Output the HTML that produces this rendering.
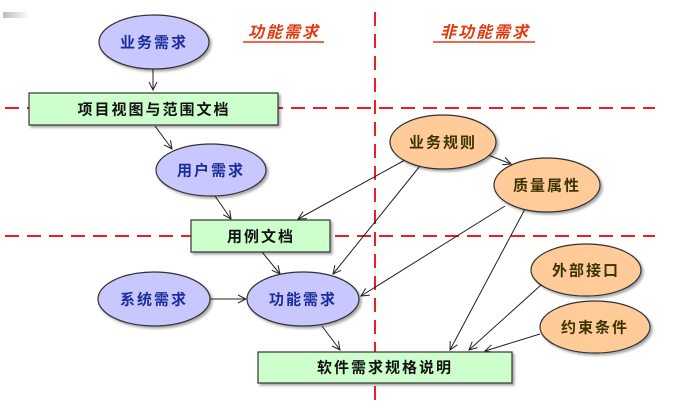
<!DOCTYPE html>
<html><head><meta charset="utf-8"><style>
html,body{margin:0;padding:0;background:#fff;}
svg{display:block;}
text{font-family:"Liberation Sans","Noto Sans CJK SC",sans-serif;font-weight:bold;font-size:15px;text-anchor:middle;dominant-baseline:central;letter-spacing:2px;}
.b{fill:#1c2c9c;}
.o{fill:#3a3200;}
.k{fill:#111;}
.h{fill:#e23a10;font-style:italic;font-size:16px;}
</style></head><body>
<svg width="685" height="418" viewBox="0 0 685 418" xmlns="http://www.w3.org/2000/svg">
<defs>
<marker id="a" markerWidth="10" markerHeight="10" refX="9" refY="5" orient="auto" markerUnits="userSpaceOnUse">
<path d="M1,1 L9,5 L1,9" fill="none" stroke="#222" stroke-width="1"/></marker>
<linearGradient id="g" x1="0" x2="1"><stop offset="0" stop-color="#bbb"/><stop offset="1" stop-color="#fff"/></linearGradient>
<filter id="s" x="-10%" y="-10%" width="130%" height="140%"><feDropShadow dx="2" dy="2" stdDeviation="1.2" flood-color="#000" flood-opacity="0.35"/></filter>
</defs>
<rect x="3" y="12" width="26" height="6" fill="url(#g)"/>
<g stroke="#ee1c24" stroke-width="2" stroke-dasharray="14,8" fill="none">
<line x1="5" y1="108" x2="655" y2="108"/>
<line x1="5" y1="236" x2="655" y2="236"/>
<line x1="375" y1="12" x2="375" y2="405"/>
</g>
<text class="h" x="284" y="33">功能需求</text>
<line x1="243" y1="42" x2="324" y2="42" stroke="#e23a10" stroke-width="1.5"/>
<text class="h" x="485" y="33">非功能需求</text>
<line x1="433" y1="42" x2="535" y2="42" stroke="#e23a10" stroke-width="1.5"/>

<g stroke="#222" stroke-width="1" fill="none" marker-end="url(#a)">
<line x1="153" y1="69" x2="153" y2="90"/>
<line x1="155" y1="126" x2="172" y2="149"/>
<line x1="215" y1="196" x2="231" y2="219"/>
<line x1="405" y1="160" x2="298" y2="219"/>
<line x1="420" y1="166" x2="333" y2="274"/>
<line x1="488" y1="155" x2="511" y2="164"/>
<line x1="505" y1="206" x2="361" y2="296"/>
<line x1="525" y1="209" x2="450" y2="350"/>
<line x1="541" y1="285" x2="469" y2="350"/>
<line x1="540" y1="334" x2="485" y2="351"/>
<line x1="262" y1="252" x2="280" y2="274"/>
<line x1="210" y1="299" x2="246" y2="299"/>
<line x1="322" y1="326" x2="340" y2="350"/>
</g>

<g stroke="#333" stroke-width="1.2" filter="url(#s)">
<ellipse cx="154" cy="42" rx="55" ry="27" fill="#c8c8ff"/>
<ellipse cx="211" cy="170" rx="55" ry="26" fill="#c8c8ff"/>
<ellipse cx="154" cy="299" rx="56" ry="27" fill="#c8c8ff"/>
<ellipse cx="303" cy="299" rx="56" ry="27" fill="#c8c8ff"/>
<ellipse cx="443" cy="142" rx="53" ry="27" fill="#ffcc99"/>
<ellipse cx="547" cy="185" rx="53" ry="27" fill="#ffcc99"/>
<ellipse cx="586" cy="270" rx="55" ry="26" fill="#ffcc99"/>
<ellipse cx="595" cy="327" rx="55" ry="26" fill="#ffcc99"/>
<rect x="29" y="93" width="249" height="32" fill="#ccffcc"/>
<rect x="191" y="220" width="139" height="32" fill="#ccffcc"/>
<rect x="258" y="352" width="254" height="31" fill="#ccffcc"/>
</g>

<text class="b" x="154" y="43">业务需求</text>
<text class="b" x="211" y="171">用户需求</text>
<text class="b" x="154" y="300">系统需求</text>
<text class="b" x="303" y="300">功能需求</text>
<text class="o" x="443" y="143">业务规则</text>
<text class="o" x="547" y="186">质量属性</text>
<text class="o" x="586" y="271">外部接口</text>
<text class="o" x="595" y="328">约束条件</text>
<text class="k" x="154" y="110">项目视图与范围文档</text>
<text class="k" x="261" y="237">用例文档</text>
<text class="k" x="385" y="368">软件需求规格说明</text>
</svg>
</body></html>
